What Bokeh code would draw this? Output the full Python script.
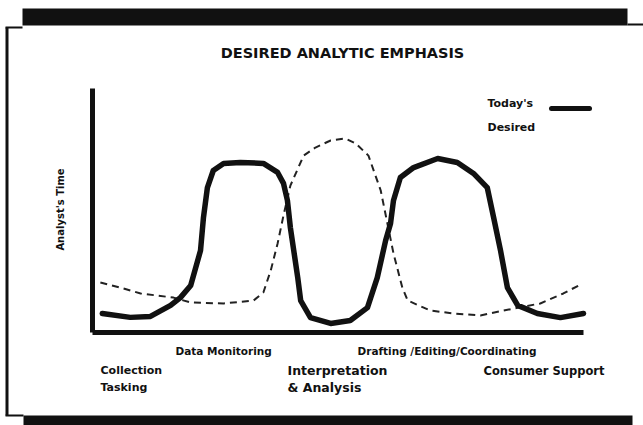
from bokeh.plotting import figure
from bokeh.models import Range1d, ColumnDataSource
from bokeh.core.properties import value
from bokeh.embed import file_html
from bokeh.resources import INLINE

# ---- data (x: position along the analytic workflow 0..100, y: analyst's time 0..100)
today_x = [2.0, 7.7, 11.8, 15.9, 17.9, 20.0, 22.0, 22.6, 23.4, 24.6, 26.7, 30.1, 34.8, 37.7,
           38.9, 39.7, 40.3, 41.8, 42.4, 44.4, 48.5, 52.5, 56.0, 58.0, 59.7, 60.7, 61.3,
           62.7, 65.4, 70.3, 74.3, 77.6, 80.4, 81.7, 83.1, 84.5, 86.6, 90.6, 95.3, 100.0]
today_y = [7.8, 6.2, 6.6, 11.1, 14.3, 19.3, 33.6, 47.1, 59.4, 66.4, 69.3, 69.7, 69.3, 65.6,
           61.1, 54.1, 43.0, 22.5, 13.1, 6.1, 3.7, 4.9, 10.2, 22.5, 37.7, 44.7, 54.1,
           63.5, 67.6, 71.3, 69.7, 65.2, 59.4, 47.1, 33.6, 18.4, 11.1, 7.8, 6.1, 7.8]

desired_x = [1.6, 5.7, 9.8, 16.5, 20.0, 26.7, 32.8, 34.8, 36.3, 37.7, 38.9, 40.3, 43.0, 45.4,
             48.5, 51.5, 53.6, 56.2, 58.7, 61.3, 63.1, 64.2, 68.8, 73.5, 79.0, 85.7, 91.2,
             95.9, 99.8]
desired_y = [20.5, 18.4, 16.0, 14.3, 12.3, 11.9, 13.1, 16.4, 25.4, 36.5, 48.0, 60.2, 72.5, 75.8,
             78.7, 79.5, 77.5, 72.5, 58.2, 32.4, 18.4, 13.1, 9.0, 7.8, 7.0, 9.8, 11.9,
             16.0, 20.1]

title_text = "DESIRED ANALYTIC EMPHASIS"
y_label = "Analyst's Time"
legend_labels = ["Today's", "Desired"]
upper_stages = ["Data Monitoring", "Drafting /Editing/Coordinating"]
lower_stages = [["Collection", "Tasking"], ["Interpretation", "& Analysis"], ["Consumer Support"]]

# ---- layout helpers: picture pixel -> data coordinate
X0, X100 = 92.0, 583.0
Y0, Y100 = 332.0, 88.0
def dx(px):
    return (px - X0) * 100.0 / (X100 - X0)
def dy(py):
    return (Y0 - py) * 100.0 / (Y0 - Y100)

W, H = 643, 425
p = figure(width=W, height=H, output_backend="svg", toolbar_location=None,
           x_range=Range1d(dx(0), dx(W)), y_range=Range1d(dy(H), dy(0)),
           x_axis_type=None, y_axis_type=None, min_border=0,
           outline_line_color=None, background_fill_color="white",
           border_fill_color="white")

FONT = value("DejaVu Sans")
BLACK = "#111111"

# ---- scanned page frame decorations
p.quad(left=[dx(22)], right=[dx(627)], top=[dy(8)], bottom=[dy(25)],
       fill_color=BLACK, line_color=None)
p.segment(x0=[dx(5), dx(627)], y0=[dy(27), dy(24)], x1=[dx(22), dx(643)], y1=[dy(27), dy(24)],
          line_color=BLACK, line_width=2)
p.segment(x0=[dx(6.5)], y0=[dy(27)], x1=[dx(6.5)], y1=[dy(415)], line_color=BLACK, line_width=3)
p.quad(left=[dx(23)], right=[dx(632)], top=[dy(415)], bottom=[dy(425)],
       fill_color=BLACK, line_color=None)
p.segment(x0=[dx(5)], y0=[dy(415)], x1=[dx(23)], y1=[dy(415)], line_color=BLACK, line_width=2)

# ---- axes lines
p.segment(x0=[0, 0], y0=[0, 0], x1=[0, 100], y1=[100, 0], line_color=BLACK, line_width=5)

# ---- series
src_t = ColumnDataSource(dict(x=today_x, y=today_y))
src_d = ColumnDataSource(dict(x=desired_x, y=desired_y))
p.line("x", "y", source=src_d, line_color="#222222", line_width=2, line_dash="7 5",
       line_join="round")
p.line("x", "y", source=src_t, line_color=BLACK, line_width=5.5, line_join="round",
       line_cap="round")

# ---- title
p.text(x=[dx(342)], y=[dy(52)], text=[title_text], text_font=FONT, text_font_style="bold",
       text_font_size="14.5px", text_align="center", text_baseline="middle", text_color=BLACK)

# ---- y label
p.text(x=[dx(60)], y=[dy(209)], text=[y_label], angle=1.5708, text_font=FONT,
       text_font_style="bold", text_font_size="10px", text_align="center",
       text_baseline="middle", text_color=BLACK)

# ---- legend
p.text(x=[dx(487), dx(487)], y=[dy(103), dy(127)], text=legend_labels, text_font=FONT,
       text_font_style="bold", text_font_size="11px", text_align="left",
       text_baseline="middle", text_color=BLACK)
p.segment(x0=[dx(551)], y0=[dy(108)], x1=[dx(589)], y1=[dy(108)], line_color=BLACK,
          line_width=5, line_cap="round")

# ---- stage labels
p.text(x=[dx(175), dx(357)], y=[dy(350), dy(350)], text=upper_stages, text_font=FONT,
       text_font_style="bold", text_font_size="10.5px", text_align="left",
       text_baseline="middle", text_color=BLACK)
lx = [dx(100), dx(287), dx(483)]
sizes = ["11px", "12.5px", "11.5px"]
for i, lines in enumerate(lower_stages):
    for j, t in enumerate(lines):
        p.text(x=[lx[i]], y=[dy(370 + 17 * j)], text=[t], text_font=FONT,
               text_font_style="bold", text_font_size=sizes[i], text_align="left",
               text_baseline="middle", text_color=BLACK)

open("out.html", "w").write(file_html(p, INLINE))
